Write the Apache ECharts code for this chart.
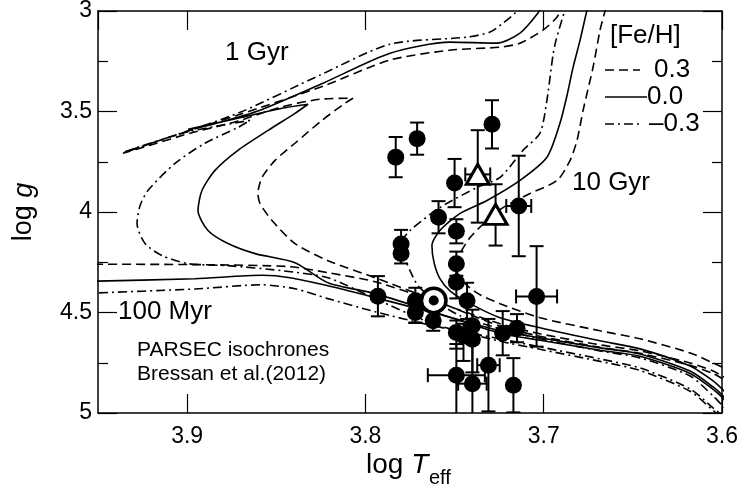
<!DOCTYPE html>
<html>
<head>
<meta charset="utf-8">
<script src="https://cdn.jsdelivr.net/npm/echarts/dist/echarts.min.js"></script>
<style>
  html, body { margin: 0; padding: 0; background: #fff; }
  #chart { width: 745px; height: 497px; }
</style>
</head>
<body>
<div id="chart"></div>
<script>
// PARSEC isochrones ([logTeff, logg]) for three ages and three metallicities
const iso100M_p03 = [[3.96,4.260],[3.9545,4.260],[3.8928,4.262],[3.8423,4.272],[3.8210,4.302],[3.7946,4.347],[3.7621,4.441],[3.7245,4.556],[3.7021,4.606],[3.6684,4.661],[3.6460,4.691],[3.6179,4.751],[3.6050,4.791],[3.6000,4.816],[3.5927,4.851]];
const iso100M_p00 = [[3.96,4.346],[3.8956,4.332],[3.8580,4.315],[3.8423,4.327],[3.8210,4.367],[3.7946,4.426],[3.7621,4.501],[3.7245,4.591],[3.7021,4.626],[3.6684,4.676],[3.6460,4.706],[3.6179,4.791],[3.6050,4.870],[3.6000,4.910],[3.5927,4.990]];
const iso100M_m03 = [[3.96,4.406],[3.8956,4.383],[3.8580,4.362],[3.8395,4.382],[3.8210,4.431],[3.7946,4.496],[3.7621,4.566],[3.7245,4.631],[3.7021,4.671],[3.6684,4.731],[3.6460,4.776],[3.6179,4.880],[3.6050,4.975],[3.6000,5.010],[3.5927,5.065]];

const iso1G_p03 = [[3.5927,4.863],[3.6000,4.828],[3.6050,4.803],[3.6179,4.763],[3.6460,4.703],[3.6684,4.673],[3.7021,4.618],[3.7245,4.568],[3.7621,4.436],[3.7946,4.327],[3.8210,4.242],[3.8395,4.157],[3.8524,4.042],[3.8591,3.958],[3.8603,3.908],[3.8580,3.828],[3.8507,3.743],[3.8395,3.658],[3.8244,3.544],[3.8115,3.459],[3.8070,3.434],[3.8255,3.439],[3.8479,3.479],[3.8720,3.549],[3.8984,3.608],[3.9208,3.668],[3.9360,3.708],[3.9152,3.643],[3.8720,3.519],[3.8238,3.374],[3.7862,3.244],[3.7526,3.195],[3.7245,3.180],[3.7133,3.160],[3.7004,3.095],[3.6925,3.030],[3.6891,2.970]];
const iso1G_p00 = [[3.5927,5.002],[3.6000,4.922],[3.6050,4.882],[3.6179,4.803],[3.6460,4.718],[3.6684,4.688],[3.7021,4.638],[3.7245,4.603],[3.7621,4.496],[3.7946,4.406],[3.8210,4.352],[3.8395,4.252],[3.8619,4.207],[3.8771,4.157],[3.8883,4.092],[3.8939,3.993],[3.8917,3.893],[3.8844,3.793],[3.8715,3.693],[3.8546,3.594],[3.8395,3.509],[3.8322,3.464],[3.8468,3.484],[3.8692,3.529],[3.8995,3.589],[3.8861,3.564],[3.8608,3.499],[3.8238,3.359],[3.7862,3.210],[3.7526,3.155],[3.7262,3.160],[3.7133,3.110],[3.7032,3.010],[3.7010,2.970]];
const iso1G_m03 = [[3.5927,5.077],[3.6000,5.022],[3.6050,4.987],[3.6179,4.892],[3.6460,4.788],[3.6684,4.743],[3.7021,4.683],[3.7245,4.643],[3.7621,4.556],[3.7946,4.431],[3.8210,4.327],[3.8468,4.292],[3.8771,4.267],[3.8995,4.257],[3.9141,4.217],[3.9236,4.157],[3.9281,4.057],[3.9264,3.968],[3.9220,3.893],[3.9068,3.758],[3.8900,3.658],[3.8715,3.579],[3.8647,3.544],[3.8984,3.599],[3.9208,3.658],[3.9360,3.703],[3.9068,3.618],[3.8703,3.504],[3.8255,3.319],[3.7862,3.165],[3.7430,3.130],[3.7301,3.105],[3.7228,3.060],[3.7161,3.010],[3.7133,2.970]];

const iso10G_p03 = [[3.5927,4.801],[3.6000,4.771],[3.6050,4.751],[3.6179,4.701],[3.6460,4.631],[3.6684,4.591],[3.7021,4.526],[3.7245,4.456],[3.7368,4.406],[3.7458,4.342],[3.7492,4.277],[3.7469,4.207],[3.7413,4.127],[3.7318,4.042],[3.7228,3.978],[3.7077,3.908],[3.6925,3.843],[3.6852,3.743],[3.6813,3.643],[3.6779,3.494],[3.6723,3.279],[3.6684,3.095],[3.6656,3.000],[3.6639,2.945]];
const iso10G_p00 = [[3.5927,4.950],[3.6000,4.880],[3.6050,4.840],[3.6179,4.766],[3.6460,4.681],[3.6684,4.641],[3.7021,4.576],[3.7245,4.526],[3.7413,4.456],[3.7526,4.392],[3.7582,4.332],[3.7615,4.252],[3.7627,4.167],[3.7582,4.092],[3.7469,4.007],[3.7318,3.943],[3.7133,3.843],[3.6982,3.728],[3.6909,3.559],[3.6869,3.419],[3.6835,3.279],[3.6796,3.145],[3.6757,2.995],[3.6740,2.945]];
const iso10G_m03 = [[3.5927,5.020],[3.6000,4.960],[3.6050,4.915],[3.6179,4.816],[3.6460,4.726],[3.6684,4.691],[3.7021,4.631],[3.7245,4.581],[3.7469,4.516],[3.7610,4.441],[3.7705,4.367],[3.7750,4.292],[3.7784,4.217],[3.7795,4.152],[3.7750,4.092],[3.7582,3.978],[3.7374,3.878],[3.7245,3.828],[3.7116,3.693],[3.7021,3.608],[3.6982,3.444],[3.6948,3.219],[3.6931,3.145],[3.6881,2.995],[3.6864,2.945]];

// Observed stars (filled circles) with uncertainties
const starLogT     = [3.783,3.771,3.729,3.750,3.714,3.759,3.749,3.780,3.780,3.749,3.749,3.743,3.793,3.772,3.772,3.762,3.749,3.745,3.740,3.740,3.723,3.715,3.704,3.731,3.749,3.740,3.717];
const starLogG     = [3.727,3.635,3.564,3.856,3.970,4.026,4.096,4.159,4.206,4.257,4.350,4.442,4.419,4.442,4.500,4.541,4.600,4.616,4.566,4.633,4.603,4.578,4.420,4.762,4.812,4.854,4.862];
const starErrT     = [0,0,0,0,0.007,0,0,0,0,0,0,0,0,0,0,0,0,0,0,0,0,0,0.0115,0.0063,0.016,0.008,0];
const starErrGLow  = [0.10,0.08,0.12,0.12,0.25,0.08,0.06,0.07,0.05,0.06,0.08,0.09,0.10,0.065,0.05,0.05,0.06,0.06,0.08,0.08,0.11,0.07,0.25,0.23,0.155,0.20,0.135];
const starErrGHigh = [0.10,0.08,0.12,0.12,0.25,0.08,0.06,0.05,0.05,0.06,0.08,0.09,0.10,0.11,0.05,0.05,0.08,0.125,0.08,0.165,0.11,0.07,0.25,0.23,0.25,0.25,0.135];

// Open triangles
const triLogT     = [3.737, 3.727];
const triLogG     = [3.813, 4.012];
const triErrT     = [0.007, 0];
const triErrGLow  = [0.22, 0.15];
const triErrGHigh = [0.24, 0.155];

// The Sun
const sunLogT = 3.7617;
const sunLogG = 4.44;

// Axis ticks
const xTicks = { min: 3.6, max: 3.95, step: 0.1 };
const yTicks = { min: 3, max: 5, step: 0.5 };

const FONT = "'Liberation Sans', Arial, Helvetica, sans-serif";

const rows = (t, g, et, gl, gh) => t.map((v, i) => [v, g[i], et[i], gl[i], gh[i]]);
const starRows = rows(starLogT, starLogG, starErrT, starErrGLow, starErrGHigh);
const triRows = rows(triLogT, triLogG, triErrT, triErrGLow, triErrGHigh);

function errorBars(params, api) {
  const t = api.value(0), g = api.value(1);
  const et = api.value(2), gl = api.value(3), gh = api.value(4);
  const c = api.coord([t, g]);
  const up = api.coord([t, g - gl]);
  const dn = api.coord([t, g + gh]);
  const cap = 7;
  const st = { stroke: '#000', lineWidth: 2, fill: null };
  const kids = [
    { type: 'line', shape: { x1: c[0], y1: up[1], x2: c[0], y2: dn[1] }, style: st },
    { type: 'line', shape: { x1: c[0] - cap, y1: up[1], x2: c[0] + cap, y2: up[1] }, style: st },
    { type: 'line', shape: { x1: c[0] - cap, y1: dn[1], x2: c[0] + cap, y2: dn[1] }, style: st }
  ];
  if (et > 0) {
    const hot = api.coord([t + et, g]);
    const cool = api.coord([t - et, g]);
    kids.push(
      { type: 'line', shape: { x1: hot[0], y1: c[1], x2: cool[0], y2: c[1] }, style: st },
      { type: 'line', shape: { x1: hot[0], y1: c[1] - cap, x2: hot[0], y2: c[1] + cap }, style: st },
      { type: 'line', shape: { x1: cool[0], y1: c[1] - cap, x2: cool[0], y2: c[1] + cap }, style: st }
    );
  }
  return { type: 'group', children: kids };
}

const DASH = [9, 5];
const DASHDOT = [9, 4, 2, 4];

function iso(data, type) {
  return {
    type: 'line', data: data, showSymbol: false, symbol: 'none', smooth: 0.25,
    silent: true, z: 2, clip: true,
    lineStyle: { color: '#000', width: 1.6, type: type }
  };
}

function sunLayer(size, color, z) {
  return {
    type: 'scatter', data: [[sunLogT, sunLogG]], symbol: 'circle', symbolSize: size,
    itemStyle: { color: color, opacity: 1 }, silent: true, z: z
  };
}

const axisLine = { show: true, lineStyle: { color: '#000', width: 1.5 } };
const tickStyle = { color: '#000', width: 1.2 };

const chart = echarts.init(document.getElementById('chart'), null, { renderer: 'canvas' });
chart.setOption({
  animation: false,
  backgroundColor: '#fff',
  grid: { left: 98, right: 23, top: 11, bottom: 84, containLabel: false, outerBoundsMode: 'none' },
  xAxis: [
    {
      type: 'value', position: 'bottom', inverse: true,
      min: xTicks.min, max: xTicks.max, interval: xTicks.step,
      axisLine: axisLine,
      axisTick: { show: true, inside: true, length: 19, lineStyle: tickStyle },
      axisLabel: { show: true, showMaxLabel: false, color: '#000', fontSize: 23, fontFamily: FONT, margin: 12,
                   formatter: v => v.toFixed(1) },
      splitLine: { show: false }
    },
    {
      type: 'value', position: 'top', inverse: true,
      min: xTicks.min, max: xTicks.max, interval: xTicks.step,
      axisLine: axisLine,
      axisTick: { show: true, inside: true, length: 19, lineStyle: tickStyle },
      axisLabel: { show: false }, splitLine: { show: false }
    }
  ],
  yAxis: [
    {
      type: 'value', position: 'left', inverse: true,
      min: yTicks.min, max: yTicks.max, interval: yTicks.step,
      axisLine: axisLine,
      axisTick: { show: true, inside: true, length: 19, lineStyle: tickStyle },
      minorTick: { show: true, splitNumber: 2, length: 10, lineStyle: tickStyle },
      axisLabel: { color: '#000', fontSize: 23, fontFamily: FONT, margin: 6 },
      splitLine: { show: false }, minorSplitLine: { show: false }
    },
    {
      type: 'value', position: 'right', inverse: true,
      min: yTicks.min, max: yTicks.max, interval: yTicks.step,
      axisLine: axisLine,
      axisTick: { show: true, inside: true, length: 19, lineStyle: tickStyle },
      minorTick: { show: true, splitNumber: 2, length: 10, lineStyle: tickStyle },
      axisLabel: { show: false },
      splitLine: { show: false }, minorSplitLine: { show: false }
    }
  ],
  series: [
    iso(iso100M_p03, DASH), iso(iso100M_p00, 'solid'), iso(iso100M_m03, DASHDOT),
    iso(iso1G_p03, DASH), iso(iso1G_p00, 'solid'), iso(iso1G_m03, DASHDOT),
    iso(iso10G_p03, DASH), iso(iso10G_p00, 'solid'), iso(iso10G_m03, DASHDOT),
    {
      type: 'custom', renderItem: errorBars, data: starRows, clip: true, silent: true, z: 3,
      encode: { x: 0, y: 1 }
    },
    {
      type: 'custom', renderItem: errorBars, data: triRows, clip: true, silent: true, z: 3,
      encode: { x: 0, y: 1 }
    },
    {
      type: 'scatter', data: starRows.map(r => [r[0], r[1]]), symbol: 'circle', symbolSize: 17,
      itemStyle: { color: '#000', opacity: 1 }, silent: true, z: 4
    },
    {
      type: 'scatter', data: triRows.map(r => [r[0], r[1]]), symbol: 'triangle', symbolSize: [23, 20],
      itemStyle: { color: '#fff', borderColor: '#000', borderWidth: 3, opacity: 1 }, silent: true, z: 5
    },
    sunLayer(28, '#000', 6),
    sunLayer(21, '#fff', 7),
    sunLayer(10, '#000', 8)
  ],
  graphic: [
    // axis titles
    { type: 'text', left: 366, top: 451, z: 10,
      style: { text: '{a|log }{b|T}', fill: '#000', font: '28px ' + FONT,
               rich: { a: { fontSize: 28, fontFamily: FONT }, b: { fontSize: 28, fontFamily: FONT, fontStyle: 'italic' } } } },
    { type: 'text', left: 429, top: 468, z: 10,
      style: { text: 'eff', fill: '#000', font: '20px ' + FONT } },
    { type: 'text', x: 24, y: 212, rotation: Math.PI / 2, z: 10,
      style: { text: '{a|log }{b|g}', fill: '#000', align: 'center', verticalAlign: 'middle', font: '27px ' + FONT,
               rich: { a: { fontSize: 27, fontFamily: FONT }, b: { fontSize: 27, fontFamily: FONT, fontStyle: 'italic' } } } },
    // isochrone age labels
    { type: 'text', x: 225, y: 53, z: 10, style: { text: '1 Gyr', fill: '#000', font: '26px ' + FONT, verticalAlign: 'middle' } },
    { type: 'text', x: 572, y: 183, z: 10, style: { text: '10 Gyr', fill: '#000', font: '26px ' + FONT, verticalAlign: 'middle' } },
    { type: 'text', x: 118, y: 312, z: 10, style: { text: '100 Myr', fill: '#000', font: '26px ' + FONT, verticalAlign: 'middle' } },
    { type: 'text', x: 137, y: 350, z: 10, style: { text: 'PARSEC isochrones', fill: '#000', font: '21px ' + FONT, verticalAlign: 'middle' } },
    { type: 'text', x: 137, y: 374, z: 10, style: { text: 'Bressan et al.(2012)', fill: '#000', font: '21px ' + FONT, verticalAlign: 'middle' } },
    // metallicity key
    { type: 'text', x: 610, y: 36, z: 10, style: { text: '[Fe/H]', fill: '#000', font: '26px ' + FONT, verticalAlign: 'middle' } },
    { type: 'line', z: 10, shape: { x1: 605, y1: 70, x2: 640, y2: 70 }, style: { stroke: '#000', lineWidth: 1.6, lineDash: DASH } },
    { type: 'line', z: 10, shape: { x1: 605, y1: 97, x2: 647, y2: 97 }, style: { stroke: '#000', lineWidth: 1.6 } },
    { type: 'line', z: 10, shape: { x1: 605, y1: 124, x2: 643, y2: 124 }, style: { stroke: '#000', lineWidth: 1.6, lineDash: DASHDOT } },
    { type: 'text', x: 654, y: 70, z: 10, style: { text: '0.3', fill: '#000', font: '26px ' + FONT, verticalAlign: 'middle' } },
    { type: 'text', x: 647, y: 97, z: 10, style: { text: '0.0', fill: '#000', font: '26px ' + FONT, verticalAlign: 'middle' } },
    { type: 'text', x: 649, y: 124, z: 10, style: { text: '\u20130.3', fill: '#000', font: '26px ' + FONT, verticalAlign: 'middle' } }
  ]
});
</script>
</body>
</html>
